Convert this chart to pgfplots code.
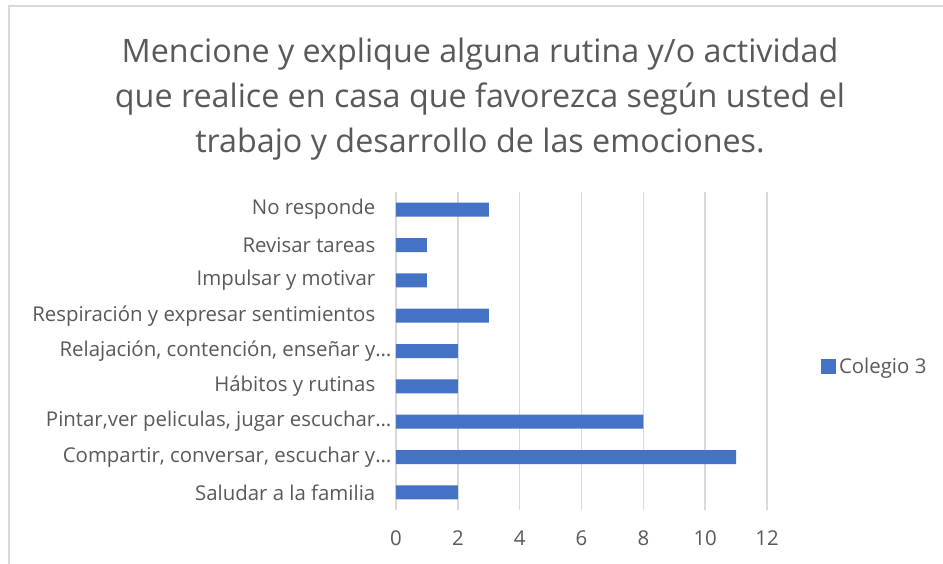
\documentclass[border=0pt]{standalone}
\usepackage{fontspec}
\setmainfont{Open Sans}
\usepackage{pgfplots}
\pgfplotsset{compat=1.18}
\definecolor{txt}{HTML}{595959}
\definecolor{bar}{HTML}{4472C4}
\definecolor{grd}{HTML}{D9D9D9}
\begin{document}
\begin{tikzpicture}
\useasboundingbox (0,0) rectangle (707.25pt,-423pt);
\fill[white] (0,0) rectangle (707.25pt,-423pt);
\draw[grd, line width=1.5pt] (6.75pt,-1000pt) -- (6.75pt,-4.5pt) -- (1000pt,-4.5pt);
\node[text=txt, font=\fontsize{24.2}{33.75}\selectfont, align=center] at (360pt,-74pt)
  {Mencione y explique alguna rutina y/o actividad\\que realice en casa que favorezca según usted el\\trabajo y desarrollo de las emociones.};
\begin{axis}[
    at={(297pt,-382.5pt)}, anchor=south west,
    scale only axis, width=278.25pt, height=238.5pt,
    xbar, bar width=10.5pt,
    xmin=0, xmax=12, xtick={0,2,...,12},
    ymin=-0.5, ymax=8.5, ytick={0,...,8},
    yticklabels={
      Saludar a la familia,
      {Compartir, conversar, escuchar y\rlap{…}},
      {Pintar,ver peliculas, jugar escuchar\rlap{…}},
      Hábitos y rutinas,
      {Relajación, contención, enseñar y\rlap{…}},
      Respiración y expresar sentimientos,
      Impulsar y motivar,
      Revisar tareas,
      No responde},
    axis line style={draw=none},
    major tick length=0pt,
    xmajorgrids, major grid style={grd, line width=1.2pt},
    /pgf/number format/assume math mode=true,
    ticklabel style={text=txt, font=\fontsize{15.3}{18}\selectfont},
    xticklabel style={yshift=-12pt},
    yticklabel style={xshift=-12pt},
    legend style={at={(1.135,0.45)}, anchor=west, draw=none, fill=none,
      text=txt, font=\fontsize{15.3}{18}\selectfont},
    legend image code/.code={\fill[bar] (0pt,-5.6pt) rectangle (11.25pt,5.6pt);},
]
\addplot[fill=bar, draw=none] coordinates {
  (2,0) (11,1) (8,2) (2,3) (2,4) (3,5) (1,6) (1,7) (3,8)};
\addlegendentry{Colegio 3}
\end{axis}
\end{tikzpicture}
\end{document}
